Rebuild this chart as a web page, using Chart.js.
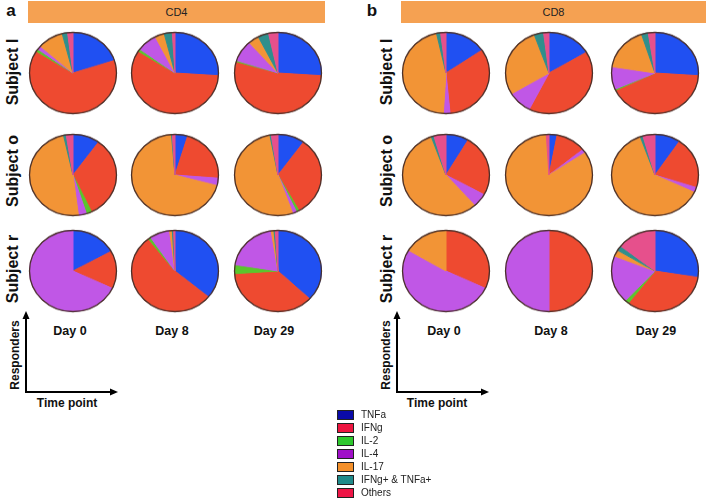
<!DOCTYPE html>
<html>
<head>
<meta charset="utf-8">
<script src="https://cdn.jsdelivr.net/npm/chart.js@4.4.0/dist/chart.umd.min.js"></script>
<style>
body { margin: 0; background: #fff; }
#fig { position: relative; width: 708px; height: 499px; overflow: hidden; font-family: "Liberation Sans", Arial, sans-serif; color: #111; }
.pie { position: absolute; width: 90px; height: 90px; transform: scaleY(0.935); }
.bar { position: absolute; top: 1px; height: 22px; background: #f5a152; font-size: 11px; line-height: 22px; text-align: center; color: #222; }
.lbl { position: absolute; transform: translate(-50%, -50%); white-space: nowrap; font-weight: bold; }
.rot { transform: translate(-50%, -50%) rotate(-90deg); }
.key { position: absolute; left: 337px; width: 15px; height: 8px; border: 1px solid #222; }
.keytxt { position: absolute; left: 361px; font-size: 10px; line-height: 12px; white-space: nowrap; color: #222; }
svg { position: absolute; left: 0; top: 0; }
</style>
</head>
<body>
<div id="fig"></div>
<script>
const cytokines = ['TNFa', 'IFNg', 'IL-2', 'IL-4', 'IL-17', 'IFNg+ & TNFa+', 'Others'];
const sliceColors = ['#2050f2', '#ee4a30', '#5ac62c', '#c057e6', '#f29436', '#2f8f8c', '#e6508c'];
const legendColors = ['#0a0aa8', '#ee1540', '#2ec82e', '#a010c8', '#f4902a', '#1f8a8a', '#ee1546'];
const days = ['Day 0', 'Day 8', 'Day 29'];
const subjects = ['Subject I', 'Subject o', 'Subject r'];

// share of responding cells (%), one array per day: Day 0, Day 8, Day 29
const cd4_I = [[20, 64, 1, 1.5, 9.5, 2, 2], [26, 58, 1, 7.5, 3.5, 3, 1], [26, 53.5, 0.5, 8.5, 4, 4, 3.5]];
const cd4_o = [[10, 33, 2, 3, 48.5, 1, 2.5], [4.7, 21.5, 0, 3, 69.5, 0.3, 1], [10, 32, 1, 1.5, 52.5, 0.5, 2.5]];
const cd4_r = [[17, 15, 0, 68, 0, 0, 0], [36, 53.5, 1, 7.5, 1, 0.5, 0.5], [37, 37, 3.5, 20, 1, 0.5, 1]];
const cd8_I = [[15.5, 33, 0, 2.5, 45.5, 1.5, 2], [16.5, 41, 0, 9, 28, 3.5, 2], [26, 42, 0.5, 9, 17.5, 2.5, 2.5]];
const cd8_o = [[8.5, 24.5, 0, 5.5, 56, 1, 4.5], [3, 11.2, 0, 1.5, 83.3, 0, 1], [9.5, 20.5, 0, 2, 62.5, 1, 4.5]];
const cd8_r = [[0, 32, 0, 51.5, 16.5, 0, 0], [0, 50, 0, 50, 0, 0, 0], [27.5, 33, 1.5, 19, 2.5, 2, 14.5]];

const fig = document.getElementById('fig');

// pie outline drawn round the arc the library computed
const outline = {
    id: 'outline',
    afterDatasetsDraw(chart)
    {
        const arc = chart.getDatasetMeta(0).data[0];
        const ctx = chart.ctx;
        ctx.save();
        ctx.beginPath();
        ctx.arc(arc.x, arc.y, arc.outerRadius, 0, Math.PI * 2);
        ctx.lineWidth = 1.3;
        ctx.strokeStyle = '#4a302a';
        ctx.stroke();
        ctx.restore();
    }
};

function add_text(txt, x, y, size, cls)
{
    let d = document.createElement('div');
    d.className = 'lbl' + (cls ? ' ' + cls : '');
    d.style.left = x + 'px';
    d.style.top = y + 'px';
    d.style.fontSize = size + 'px';
    d.textContent = txt;
    fig.appendChild(d);
}

function load_pie(values, cx, cy)
{
    let wrap = document.createElement('div');
    wrap.className = 'pie';
    wrap.style.left = (cx - 45) + 'px';
    wrap.style.top = (cy - 45) + 'px';
    let cv = document.createElement('canvas');
    cv.width = 90;
    cv.height = 90;
    wrap.appendChild(cv);
    fig.appendChild(wrap);

    new Chart(cv, {
        type: 'pie',
        data: {
            labels: cytokines,
            datasets: [{
                data: values,
                backgroundColor: sliceColors,
                borderColor: sliceColors,
                borderWidth: (c) => c.raw > 0 ? 1 : 0
            }]
        },
        options: {
            responsive: false,
            animation: false,
            layout: { padding: 1 },
            plugins: { legend: { display: false }, tooltip: { enabled: false } }
        },
        plugins: [outline]
    });
}

const panels = [
    { letter: 'a', title: 'CD4', rows: [cd4_I, cd4_o, cd4_r], barX: 28, barW: 297, letterX: 11,
      pieX: [73, 175, 278], dayX: [70, 172, 274], subjX: 13, axisX: 26, respX: 15, timeX: 67 },
    { letter: 'b', title: 'CD8', rows: [cd8_I, cd8_o, cd8_r], barX: 401, barW: 305, letterX: 372,
      pieX: [446, 549, 655], dayX: [444, 551, 656], subjX: 387, axisX: 397, respX: 386, timeX: 437 }
];
const pieY = [73, 175, 271];
const subjY = [72, 171, 269];

let svg = '<svg width="708" height="499">';

panels.forEach(p => {
    let bar = document.createElement('div');
    bar.className = 'bar';
    bar.style.left = p.barX + 'px';
    bar.style.width = p.barW + 'px';
    bar.textContent = p.title;
    fig.appendChild(bar);

    add_text(p.letter, p.letterX, 11, 17);

    p.rows.forEach((row, r) => {
        add_text(subjects[r], p.subjX, subjY[r], 16, 'rot');
        row.forEach((vals, d) => load_pie(vals, p.pieX[d], pieY[r]));
    });

    days.forEach((day, d) => add_text(day, p.dayX[d], 331, 12.5));

    add_text('Responders', p.respX, 355, 12, 'rot');
    add_text('Time point', p.timeX, 403, 12);

    let x0 = p.axisX, y0 = 392;
    svg += `<polyline points="${x0},318 ${x0},${y0} ${x0 + 86},${y0}" fill="none" stroke="#000" stroke-width="2"/>`;
    svg += `<polygon points="${x0 - 3.5},319 ${x0},311 ${x0 + 3.5},319" fill="#000"/>`;
    svg += `<polygon points="${x0 + 84},${y0 - 3.5} ${x0 + 92},${y0} ${x0 + 84},${y0 + 3.5}" fill="#000"/>`;
});

svg += '</svg>';
fig.insertAdjacentHTML('beforeend', svg);

cytokines.forEach((name, i) => {
    let y = 415 + i * 13;
    let k = document.createElement('div');
    k.className = 'key';
    k.style.top = (y - 5) + 'px';
    k.style.background = legendColors[i];
    fig.appendChild(k);
    let t = document.createElement('div');
    t.className = 'keytxt';
    t.style.top = (y - 6) + 'px';
    t.textContent = name;
    fig.appendChild(t);
});
</script>
</body>
</html>
